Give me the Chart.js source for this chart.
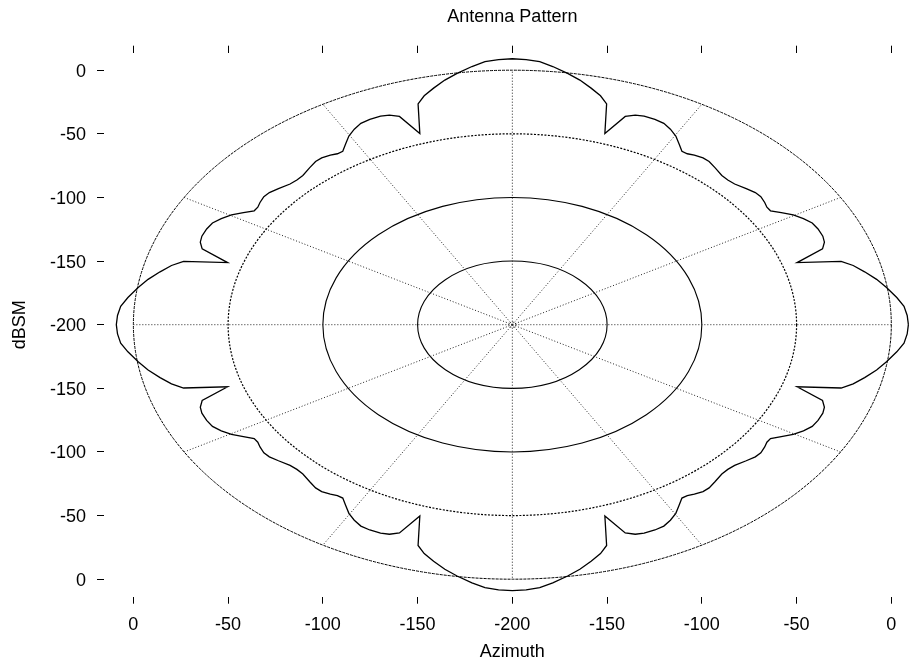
<!DOCTYPE html>
<html>
<head>
<meta charset="utf-8">
<title>Antenna Pattern</title>
<script src="https://cdn.jsdelivr.net/npm/chart.js@4.4.1/dist/chart.umd.min.js"></script>
<style>
  html, body { margin: 0; padding: 0; background: #fff; overflow: hidden; }
  #wrap { width: 922px; height: 663px; }
</style>
</head>
<body>
<div id="wrap"><canvas id="myChart"></canvas></div>
<script>
// azimuth of each sample (degrees, counter-clockwise from the right)
const azimuth = [
  0, 2, 4, 6, 8.4, 10.5, 12.6, 14.5, 16, 18, 20, 21.5, 23, 25, 26.8, 28.5, 30.2, 31.8, 33.3, 34.5,
  35.8, 37.5, 39, 40.9, 43.3, 45, 46.7, 49.1, 51, 52.5, 54.2, 55.5, 56.7, 58.2, 59.8, 61.5, 63.2, 65, 67, 68.5,
  70, 72, 74, 75.5, 77.4, 79.5, 81.6, 84, 86, 88,
  90, 92, 94, 96, 98.4, 100.5, 102.6, 104.5, 106, 108, 110, 111.5, 113, 115, 116.8, 118.5, 120.2, 121.8, 123.3, 124.5,
  125.8, 127.5, 129, 130.9, 133.3, 135, 136.7, 139.1, 141, 142.5, 144.2, 145.5, 146.7, 148.2, 149.8, 151.5, 153.2, 155, 157, 158.5,
  160, 162, 164, 165.5, 167.4, 169.5, 171.6, 174, 176, 178,
  180, 182, 184, 186, 188.4, 190.5, 192.6, 194.5, 196, 198, 200, 201.5, 203, 205, 206.8, 208.5, 210.2, 211.8, 213.3, 214.5,
  215.8, 217.5, 219, 220.9, 223.3, 225, 226.7, 229.1, 231, 232.5, 234.2, 235.5, 236.7, 238.2, 239.8, 241.5, 243.2, 245, 247, 248.5,
  250, 252, 254, 255.5, 257.4, 259.5, 261.6, 264, 266, 268,
  270, 272, 274, 276, 278.4, 280.5, 282.6, 284.5, 286, 288, 290, 291.5, 293, 295, 296.8, 298.5, 300.2, 301.8, 303.3, 304.5,
  305.8, 307.5, 309, 310.9, 313.3, 315, 316.7, 319.1, 321, 322.5, 324.2, 325.5, 326.7, 328.2, 329.8, 331.5, 333.2, 335, 337, 338.5,
  340, 342, 344, 345.5, 347.4, 349.5, 351.6, 354, 356, 358,
  360
];

// level at each azimuth, dBSM
const dbsm = [
  9.0, 8.5, 7.2, 4.0, -0.4, -4.5, -9.5, -14.2, -19.5, -42.0, -25.8, -23.0, -22.0, -22.0, -22.7, -25.2, -28.5, -33.0, -37.0, -37.0,
  -35.8, -34.7, -35.0, -36.7, -38.8, -39.2, -38.8, -36.7, -35.0, -34.7, -35.8, -37.0, -37.0, -33.0, -28.5, -25.2, -22.7, -22.0, -22.0, -23.0,
  -25.8, -42.0, -19.5, -14.2, -9.5, -4.5, -0.4, 4.0, 7.2, 8.5,
  9.0, 8.5, 7.2, 4.0, -0.4, -4.5, -9.5, -14.2, -19.5, -42.0, -25.8, -23.0, -22.0, -22.0, -22.7, -25.2, -28.5, -33.0, -37.0, -37.0,
  -35.8, -34.7, -35.0, -36.7, -38.8, -39.2, -38.8, -36.7, -35.0, -34.7, -35.8, -37.0, -37.0, -33.0, -28.5, -25.2, -22.7, -22.0, -22.0, -23.0,
  -25.8, -42.0, -19.5, -14.2, -9.5, -4.5, -0.4, 4.0, 7.2, 8.5,
  9.0, 8.5, 7.2, 4.0, -0.4, -4.5, -9.5, -14.2, -19.5, -42.0, -25.8, -23.0, -22.0, -22.0, -22.7, -25.2, -28.5, -33.0, -37.0, -37.0,
  -35.8, -34.7, -35.0, -36.7, -38.8, -39.2, -38.8, -36.7, -35.0, -34.7, -35.8, -37.0, -37.0, -33.0, -28.5, -25.2, -22.7, -22.0, -22.0, -23.0,
  -25.8, -42.0, -19.5, -14.2, -9.5, -4.5, -0.4, 4.0, 7.2, 8.5,
  9.0, 8.5, 7.2, 4.0, -0.4, -4.5, -9.5, -14.2, -19.5, -42.0, -25.8, -23.0, -22.0, -22.0, -22.7, -25.2, -28.5, -33.0, -37.0, -37.0,
  -35.8, -34.7, -35.0, -36.7, -38.8, -39.2, -38.8, -36.7, -35.0, -34.7, -35.8, -37.0, -37.0, -33.0, -28.5, -25.2, -22.7, -22.0, -22.0, -23.0,
  -25.8, -42.0, -19.5, -14.2, -9.5, -4.5, -0.4, 4.0, 7.2, 8.5,
  9.0
];

// the centre of the plot is the -200 dBSM floor
const floorDb = -200;

// tick positions on both axes (distance from the centre)
const tickValues = [-200, -150, -100, -50, 0, 50, 100, 150, 200];

// polar grid: rings (dBSM) and spokes (degrees)
const ringDbsm = [-198, -150, -100, -50, 0];
const spokeAngles = [0, 30, 60, 90, 120, 150, 180, 210, 240, 270, 300, 330];

Chart.defaults.font.family = '"Liberation Sans", Arial, Helvetica, sans-serif';
Chart.defaults.font.size = 18;
Chart.defaults.color = '#000';

const toRad = (d) => d * Math.PI / 180;

const patternPoints = azimuth.map((a, i) => {
  const r = dbsm[i] - floorDb;
  return { x: r * Math.cos(toRad(a)), y: r * Math.sin(toRad(a)) };
});

// ring line styles, same order as ringDbsm
const ringDash = [[1, 2], [], [], [2, 1.5], [3, 1]];
const ringWidth = [1, 1.1, 1.1, 1.2, 1];

const polarGrid = {
  id: 'polarGrid',
  beforeDatasetsDraw(chart) {
    const { ctx, scales: { x, y } } = chart;
    const cx = x.getPixelForValue(0);
    const cy = y.getPixelForValue(0);
    const outer = ringDbsm[ringDbsm.length - 1] - floorDb;

    ctx.save();
    ctx.strokeStyle = '#000';

    ringDbsm.forEach((db, i) => {
      const r = db - floorDb;
      const rx = x.getPixelForValue(r) - cx;
      const ry = cy - y.getPixelForValue(r);
      ctx.lineWidth = ringWidth[i];
      ctx.setLineDash(ringDash[i]);
      ctx.beginPath();
      ctx.ellipse(cx, cy, rx, ry, 0, 0, Math.PI * 2);
      ctx.stroke();
    });

    ctx.strokeStyle = '#222';
    ctx.lineWidth = 1;
    ctx.setLineDash([1, 2]);
    spokeAngles.forEach((a) => {
      ctx.beginPath();
      ctx.moveTo(cx, cy);
      ctx.lineTo(x.getPixelForValue(outer * Math.cos(toRad(a))),
                 y.getPixelForValue(outer * Math.sin(toRad(a))));
      ctx.stroke();
    });
    ctx.restore();
  }
};

const tickLabel = (v) => String(Math.abs(v) + floorDb);
const setTicks = (scale) => { scale.ticks = tickValues.map((v) => ({ value: v })); };
const tickMarks = { display: true, drawOnChartArea: false, drawTicks: true, tickLength: 7, color: '#000', lineWidth: 1 };

const ctx = document.getElementById('myChart');

new Chart(ctx, {
  type: 'scatter',
  data: {
    datasets: [{
      label: 'Pattern',
      data: patternPoints,
      showLine: true,
      borderColor: '#000',
      borderWidth: 1.3,
      pointRadius: 0,
      tension: 0,
      fill: false
    }]
  },
  options: {
    responsive: true,
    maintainAspectRatio: false,
    animation: false,
    layout: { padding: { left: 0, right: 1.3, top: 0, bottom: 0 } },
    plugins: {
      legend: { display: false },
      tooltip: { enabled: false },
      title: {
        display: true,
        text: 'Antenna Pattern',
        fullSize: false,
        color: '#000',
        font: { size: 18, weight: 'normal' },
        padding: { top: 6.3, bottom: 17.8 }
      }
    },
    scales: {
      x: {
        type: 'linear',
        position: 'bottom',
        min: -215.5,
        max: 215.5,
        afterBuildTicks: setTicks,
        afterFit: (s) => { s.height = 66.3; },
        grid: tickMarks,
        border: { display: false },
        ticks: { padding: 11, maxRotation: 0, autoSkip: false, callback: tickLabel },
        title: { display: true, text: 'Azimuth', padding: { top: 0, bottom: 0 } }
      },
      x2: {
        type: 'linear',
        position: 'top',
        min: -215.5,
        max: 215.5,
        afterBuildTicks: setTicks,
        afterFit: (s) => { s.height = 7; },
        grid: tickMarks,
        border: { display: false },
        ticks: { display: false }
      },
      y: {
        type: 'linear',
        position: 'left',
        min: -213.75,
        max: 213.75,
        afterBuildTicks: setTicks,
        afterFit: (s) => { s.width = 104; },
        grid: tickMarks,
        border: { display: false },
        ticks: { padding: 11, labelOffset: 1.5, autoSkip: false, callback: tickLabel },
        title: { display: true, text: 'dBSM', padding: { top: 9.6, bottom: 0 } }
      }
    }
  },
  plugins: [polarGrid]
});
</script>
</body>
</html>
